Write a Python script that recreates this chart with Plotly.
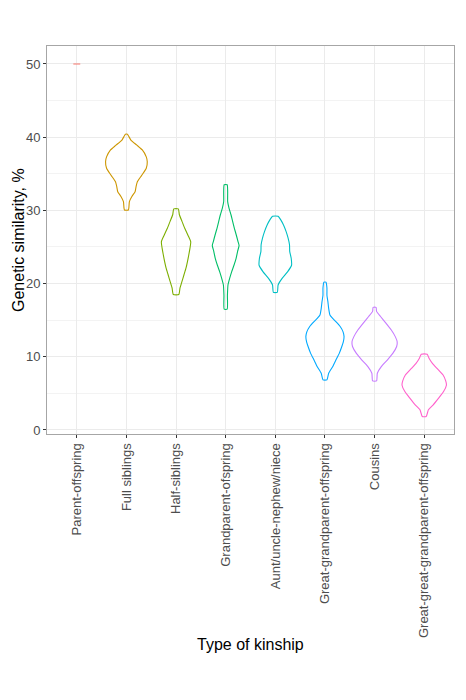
import plotly.graph_objects as go

categories = ["Parent-offspring", "Full siblings", "Half-siblings", "Grandparent-ofspring",
              "Aunt/uncle-nephew/niece", "Great-grandparent-offspring", "Cousins",
              "Great-great-grandparent-offspring"]
colors = ["#F8766D", "#CD9600", "#7CAE00", "#00BE67", "#00BFC4", "#00A9FF", "#C77CFF", "#FF61CC"]

# Violin profiles: similarity levels (%) and half-width (density) at each level
parent_y = [50, 50]
parent_w = [0.07, 0.07]

full_y = [30.05, 30.4, 31.2, 31.9, 32.55, 33.25, 33.9, 34.8, 35.75, 36.65, 37.3, 38.25, 38.9, 39.6, 40.2, 40.4]
full_w = [0.04, 0.05, 0.06, 0.11, 0.175, 0.195, 0.22, 0.31, 0.40, 0.42, 0.40, 0.32, 0.21, 0.09, 0.04, 0.02]

half_y = [18.5, 19.4, 20.3, 21.2, 22.1, 23.0, 23.9, 24.8, 25.7, 26.6, 27.55, 28.5, 29.4, 30.2]
half_w = [0.055, 0.08, 0.12, 0.16, 0.20, 0.23, 0.256, 0.28, 0.296, 0.24, 0.175, 0.12, 0.067, 0.046]

grand_y = [16.5, 18.4, 19.8, 20.7, 21.6, 22.5, 23.45, 24.4, 25.2, 25.7, 26.6, 27.55, 28.5, 29.4, 30.3, 31.2, 32.55, 33.5]
grand_w = [0.03, 0.035, 0.046, 0.08, 0.12, 0.167, 0.21, 0.24, 0.27, 0.25, 0.215, 0.175, 0.14, 0.107, 0.067, 0.04, 0.04, 0.03]

aunt_y = [18.8, 19.8, 20.7, 21.6, 22.5, 23.45, 24.4, 25.3, 26.2, 27.1, 28.0, 28.7, 29.2]
aunt_w = [0.04, 0.056, 0.137, 0.246, 0.327, 0.32, 0.29, 0.286, 0.258, 0.218, 0.165, 0.11, 0.056]

ggp_y = [6.85, 7.75, 8.65, 9.55, 10.5, 11.4, 12.05, 12.75, 13.4, 14.1, 14.8, 15.25, 15.7, 16.6, 17.5, 18.4, 19.4, 20.2]
ggp_w = [0.04, 0.075, 0.155, 0.22, 0.29, 0.34, 0.37, 0.385, 0.365, 0.31, 0.22, 0.155, 0.10, 0.075, 0.06, 0.04, 0.04, 0.02]

cous_y = [6.7, 7.75, 8.65, 9.55, 10.5, 11.4, 12.05, 12.75, 13.65, 14.6, 15.5, 16.2, 16.75]
cous_w = [0.04, 0.055, 0.135, 0.256, 0.37, 0.445, 0.455, 0.417, 0.337, 0.228, 0.12, 0.04, 0.03]

gggp_y = [1.85, 2.75, 3.4, 4.35, 5.25, 6.15, 6.7, 7.5, 8.4, 9.1, 9.8, 10.35]
gggp_w = [0.04, 0.085, 0.177, 0.29, 0.39, 0.448, 0.433, 0.38, 0.258, 0.165, 0.097, 0.06]

profiles = [(parent_y, parent_w), (full_y, full_w), (half_y, half_w), (grand_y, grand_w),
            (aunt_y, aunt_w), (ggp_y, ggp_w), (cous_y, cous_w), (gggp_y, gggp_w)]

y_ticks = [0, 10, 20, 30, 40, 50]

fig = go.Figure()
for i, (name, col, (ys, ws)) in enumerate(zip(categories, colors, profiles)):
    c = i + 1
    xs = [c - w for w in ys and ws] + [c + w for w in reversed(ws)] + [c - ws[0]]
    yy = list(ys) + list(reversed(ys)) + [ys[0]]
    fig.add_trace(go.Scatter(x=xs, y=yy, mode="lines", name=name,
                             line=dict(color=col, width=1.1, shape="spline", smoothing=0.5),
                             showlegend=False, hoverinfo="skip"))

grid = "#ebebeb"
fig.update_layout(
    width=466, height=700,
    margin=dict(l=47, r=12, t=46, b=266),
    paper_bgcolor="white", plot_bgcolor="white",
    font=dict(family="Liberation Sans, Arial, sans-serif", color="#4d4d4d", size=13),
    xaxis=dict(range=[0.4, 8.6], tickmode="array", tickvals=list(range(1, 9)), ticktext=categories,
               tickangle=-90, showgrid=True, gridcolor=grid, gridwidth=1, zeroline=False,
               showline=True, mirror=True, linecolor="#a6a6a6", linewidth=1,
               ticks="outside", ticklen=3, tickcolor="#333333", tickfont=dict(size=13, color="#4d4d4d")),
    yaxis=dict(range=[-0.55, 52.45], tickmode="array", tickvals=y_ticks,
               ticktext=[str(t) for t in y_ticks],
               showgrid=True, gridcolor=grid, gridwidth=1, zeroline=False,
               minor=dict(tickvals=[5, 15, 25, 35, 45], showgrid=True, gridcolor="#f3f3f3", gridwidth=1),
               showline=True, mirror=True, linecolor="#a6a6a6", linewidth=1,
               ticks="outside", ticklen=3, tickcolor="#333333", tickfont=dict(size=13, color="#4d4d4d")),
    annotations=[
        dict(text="Type of kinship", x=0.5, xref="paper", y=644, yref="paper", showarrow=False,
             font=dict(size=16, color="black"), xanchor="center", yanchor="middle"),
        dict(text="Genetic similarity, %", x=18, xref="paper", y=0.5, yref="paper", showarrow=False,
             font=dict(size=16, color="black"), textangle=-90, xanchor="center", yanchor="middle"),
    ],
)
# convert pixel positions of the titles to paper coords
pw = 466 - 47 - 12
ph = 700 - 46 - 266
fig.layout.annotations[0].y = (434 - 644) / ph
fig.layout.annotations[1].x = (18 - 47) / pw
fig.write_html("out.html")
